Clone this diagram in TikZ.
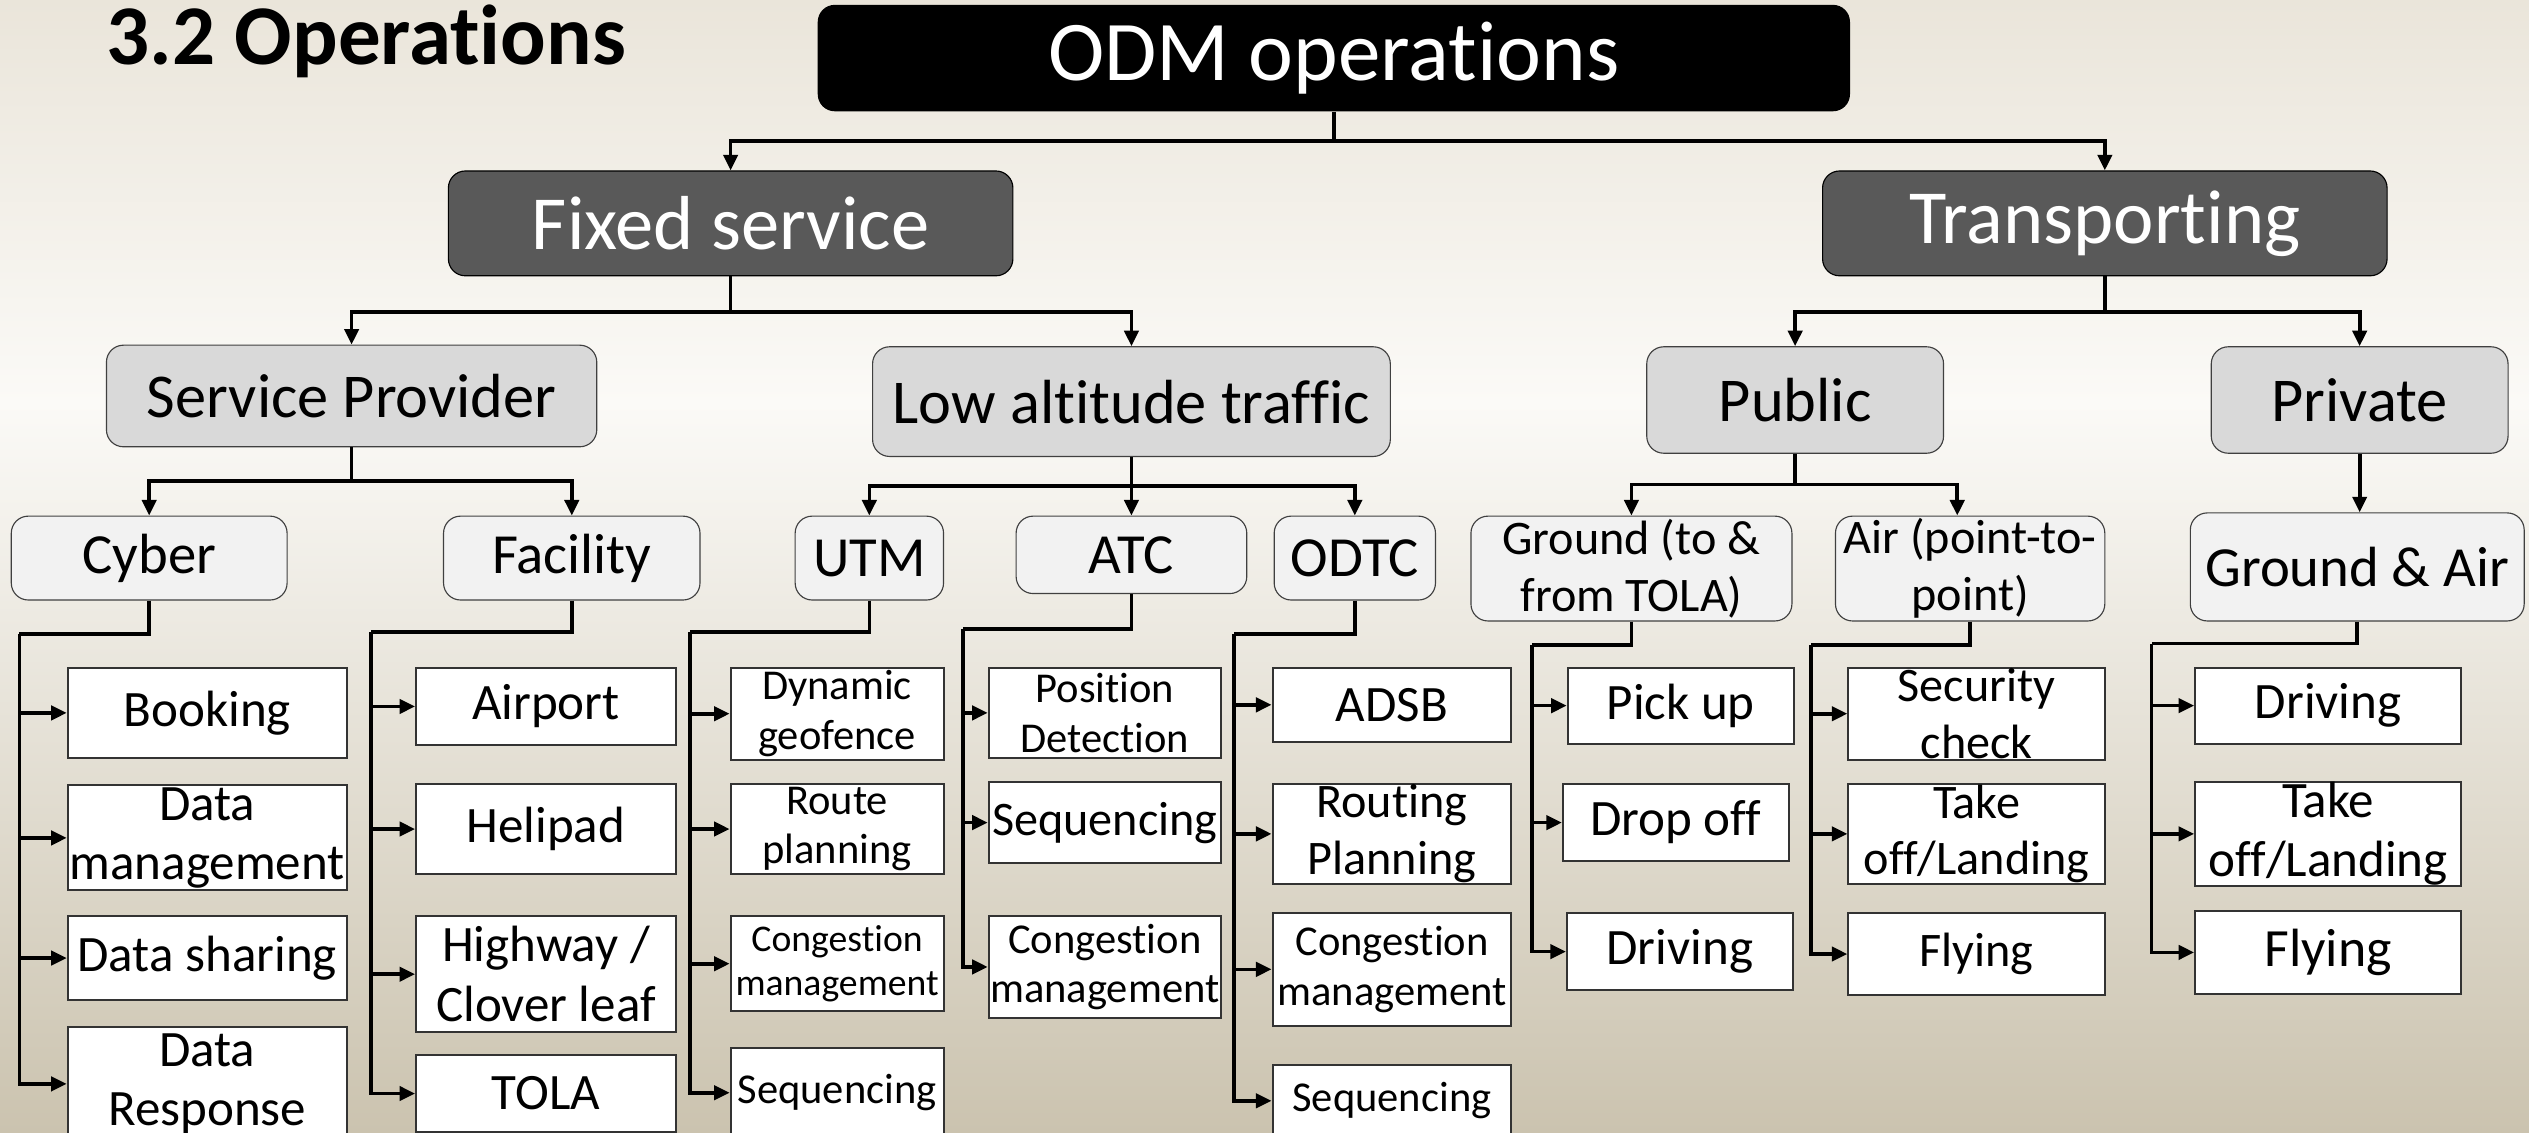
\documentclass[tikz,border=0pt]{standalone}
\usepackage{fontspec}
\setmainfont{Carlito}[Ligatures=NoCommon]
\usetikzlibrary{arrows.meta}
\definecolor{darkbox}{HTML}{595959}
\definecolor{groupfill}{HTML}{D9D9D9}
\definecolor{subfill}{HTML}{F2F2F2}
\definecolor{bgtop}{HTML}{EAE5DA}
\definecolor{bgmid}{HTML}{FBFAF7}
\definecolor{bgbot}{HTML}{CBC3AF}

\begin{document}
\begin{tikzpicture}[x=0.2mm, y=-0.2mm,
  >={Triangle[length=5.5pt,width=5pt]},
  link/.style={line width=1.3pt},
  topbox/.style={rectangle, rounded corners=6pt, fill=black, text=white, inner sep=0pt, font=\fontsize{30}{34}\selectfont},
  mainbox/.style={rectangle, rounded corners=6pt, draw=black, fill=darkbox, text=white, inner sep=0pt, minimum width=70mm, minimum height=13mm, font=\fontsize{27}{30}\selectfont},
  groupbox/.style={rectangle, rounded corners=6pt, draw=black!75, fill=groupfill, inner sep=0pt, font=\fontsize{22}{25}\selectfont},
  subbox/.style={rectangle, rounded corners=6pt, draw=black!75, fill=subfill, inner sep=0pt, align=center, font=\fontsize{20}{23}\selectfont},
  leaf/.style={rectangle, draw=black!80, line width=0.7pt, fill=white, inner sep=0pt, align=center, font=\fontsize{18}{21}\selectfont},
  smallleaf/.style={leaf, font=\fontsize{15}{17.5}\selectfont},
]
  % background
  \useasboundingbox (0,0) rectangle (1568,702);
  \shade[top color=bgtop, bottom color=bgmid] (0,0) rectangle (1568,250);
  \shade[top color=bgmid, bottom color=bgbot] (0,250) rectangle (1568,702);

  \node (title) [anchor=base west, font=\fontsize{30}{33}\selectfont\bfseries] at (60,40) {3.2 Operations};

  % top levels
  \node (odm) [topbox, minimum width=128mm, minimum height=13.2mm] at (827,36) {ODM operations};
  \node (fixed) [mainbox] at (453,138.5) {Fixed service};
  \node (trans) [mainbox] at (1305,138.5) {Transporting};

  \node (sp) [groupbox, minimum width=60.8mm, minimum height=12.6mm] at (218,245.5) {Service Provider};
  \node (lat) [groupbox, minimum width=64.2mm, minimum height=13.6mm] at (701.5,249) {Low altitude traffic};
  \node (pub) [groupbox, minimum width=36.8mm, minimum height=13.2mm] at (1113,248) {Public};
  \node (priv) [groupbox, minimum width=36.8mm, minimum height=13.2mm] at (1463,248) {Private};

  \node (cyber) [subbox, minimum width=34.2mm, minimum height=10.4mm] at (92.5,346) {Cyber};
  \node (facility) [subbox, minimum width=31.8mm, minimum height=10.4mm] at (354.5,346) {Facility};
  \node (utm) [subbox, minimum width=18.4mm, minimum height=10.4mm] at (539,346) {UTM};
  \node (atc) [subbox, minimum width=28.6mm, minimum height=9.6mm] at (701.5,344) {ATC};
  \node (odtc) [subbox, minimum width=20mm, minimum height=10.4mm] at (840,346) {ODTC};
  \node (ground) [subbox, minimum width=39.8mm, minimum height=13mm, font=\fontsize{17}{20}\selectfont] at (1011.5,352.5) {Ground (to \&\\from TOLA)};
  \node (air) [subbox, minimum width=33.4mm, minimum height=13mm, font=\fontsize{17}{20}\selectfont] at (1221.5,352.5) {Air (point-to-\\point)};
  \node (ga) [subbox, minimum width=41.4mm, minimum height=13.4mm] at (1461.5,351.5) {Ground \& Air};

  % leaves
  \node (booking) [leaf, minimum width=34.6mm, minimum height=11.2mm] at (128.5,442) {Booking};
  \node (dmgmt) [leaf, minimum width=34.6mm, minimum height=13mm] at (128.5,519.5) {Data\\management};
  \node (dshare) [leaf, minimum width=34.6mm, minimum height=10.4mm] at (128.5,594) {Data sharing};
  \node (dresp) [leaf, minimum width=34.6mm, minimum height=14mm] at (128.5,672) {Data\\Response};

  \node (airport) [leaf, minimum width=32.2mm, minimum height=9.6mm] at (338.5,438) {Airport};
  \node (helipad) [leaf, minimum width=32.2mm, minimum height=11.2mm] at (338.5,514) {Helipad};
  \node (highway) [leaf, minimum width=32.2mm, minimum height=14.4mm] at (338.5,604) {Highway /\\Clover leaf};
  \node (tola) [leaf, minimum width=32.2mm, minimum height=9.6mm] at (338.5,678) {TOLA};

  \node (dyngeo) [smallleaf, minimum width=26.4mm, minimum height=11.4mm] at (519,442.5) {Dynamic\\geofence};
  \node (route) [smallleaf, minimum width=26.4mm, minimum height=11.2mm] at (519,514) {Route\\planning};
  \node (ucong) [smallleaf, minimum width=26.4mm, minimum height=11.8mm, font=\fontsize{13.3}{15.4}\selectfont] at (519,597.5) {Congestion\\management};
  \node (useq) [smallleaf, minimum width=26.4mm, minimum height=11mm] at (519,677.5) {Sequencing};

  \node (posdet) [smallleaf, minimum width=28.8mm, minimum height=11.2mm] at (685,442) {Position\\Detection};
  \node (aseq) [leaf, minimum width=28.8mm, minimum height=10mm, font=\fontsize{17}{20}\selectfont] at (685,510) {Sequencing};
  \node (acong) [smallleaf, minimum width=28.8mm, minimum height=12.6mm] at (685,599.5) {Congestion\\management};

  \node (adsb) [leaf, minimum width=29.6mm, minimum height=9.2mm] at (863,437) {ADSB};
  \node (routing) [leaf, minimum width=29.6mm, minimum height=12.4mm, font=\fontsize{17}{20}\selectfont] at (863,517) {Routing\\Planning};
  \node (ocong) [smallleaf, minimum width=29.6mm, minimum height=14mm] at (863,601) {Congestion\\management};
  \node (oseq) [smallleaf, minimum width=29.6mm, minimum height=9mm] at (863,682.5) {Sequencing};

  \node (pickup) [leaf, minimum width=28mm, minimum height=9.4mm] at (1042,437.5) {Pick up};
  \node (dropoff) [leaf, minimum width=28mm, minimum height=9.6mm] at (1039,510) {Drop off};
  \node (gdrive) [leaf, minimum width=28mm, minimum height=9.6mm] at (1041.5,590) {Driving};

  \node (security) [leaf, minimum width=31.8mm, minimum height=11.4mm, font=\fontsize{17}{20}\selectfont] at (1225.5,442.5) {Security\\check};
  \node (atake) [leaf, minimum width=31.8mm, minimum height=12.4mm, font=\fontsize{17}{20}\selectfont] at (1225.5,517) {Take\\off/Landing};
  \node (afly) [leaf, minimum width=31.8mm, minimum height=10.2mm, font=\fontsize{17}{20}\selectfont] at (1225.5,591.5) {Flying};

  \node (gadrive) [leaf, minimum width=33mm, minimum height=9.4mm] at (1443.5,437.5) {Driving};
  \node (gatake) [leaf, minimum width=33mm, minimum height=12.4mm] at (1443.5,517) {Take\\off/Landing};
  \node (gafly) [leaf, minimum width=33mm, minimum height=10.2mm, font=\fontsize{19}{22}\selectfont] at (1443.5,590.5) {Flying};

  % tree links
  \draw[link,->] (odm.south) -- ++(0,18) -| (fixed.north);
  \draw[link,->] (odm.south) -- ++(0,18) -| (trans.north);
  \draw[link,->] (fixed.south) -- ++(0,22) -| (sp.north);
  \draw[link,->] (fixed.south) -- ++(0,22) -| (lat.north);
  \draw[link,->] (trans.south) -- ++(0,22) -| (pub.north);
  \draw[link,->] (trans.south) -- ++(0,22) -| (priv.north);
  \draw[link,->] (sp.south) -- ++(0,21) -| (cyber.north);
  \draw[link,->] (sp.south) -- ++(0,21) -| (facility.north);
  \draw[link,->] (lat.south) -- ++(0,18) -| (utm.north);
  \draw[link,->] (lat.south) -- (atc.north);
  \draw[link,->] (lat.south) -- ++(0,18) -| (odtc.north);
  \draw[link,->] (pub.south) -- ++(0,19) -| (ground.north);
  \draw[link,->] (pub.south) -- ++(0,19) -| ([xshift=-1.6mm]air.north);
  \draw[link,->] (priv.south) -- (priv.south |- ga.north);

  % trunks to the leaves
  \coordinate (cyt) at (12,393);
  \coordinate (fat) at (230,392);
  \coordinate (utt) at (428,392);
  \coordinate (att) at (597,390);
  \coordinate (odt) at (765,393);
  \coordinate (grt) at (950,400);
  \coordinate (art) at (1123,400);
  \coordinate (gat) at (1334,399);

  \draw[link] (cyber.south) |- (cyt);
  \draw[link,->] (cyt) |- (booking.west);
  \draw[link,->] (cyt) |- (dmgmt.west);
  \draw[link,->] (cyt) |- (dshare.west);
  \draw[link,->] (cyt) |- (dresp.west);

  \draw[link] (facility.south) |- (fat);
  \draw[link,->] (fat) |- (airport.west);
  \draw[link,->] (fat) |- (helipad.west);
  \draw[link,->] (fat) |- (highway.west);
  \draw[link,->] (fat) |- (tola.west);

  \draw[link] (utm.south) |- (utt);
  \draw[link,->] (utt) |- (dyngeo.west);
  \draw[link,->] (utt) |- (route.west);
  \draw[link,->] (utt) |- (ucong.west);
  \draw[link,->] (utt) |- (useq.west);

  \draw[link] (atc.south) |- (att);
  \draw[link,->] (att) |- (posdet.west);
  \draw[link,->] (att) |- (aseq.west);
  \draw[link,->] (att) |- (acong.west);

  \draw[link] (odtc.south) |- (odt);
  \draw[link,->] (odt) |- (adsb.west);
  \draw[link,->] (odt) |- (routing.west);
  \draw[link,->] (odt) |- (ocong.west);
  \draw[link,->] (odt) |- (oseq.west);

  \draw[link] (ground.south) |- (grt);
  \draw[link,->] (grt) |- (pickup.west);
  \draw[link,->] (grt) |- (dropoff.west);
  \draw[link,->] (grt) |- (gdrive.west);

  \draw[link] (air.south) |- (art);
  \draw[link,->] (art) |- (security.west);
  \draw[link,->] (art) |- (atake.west);
  \draw[link,->] (art) |- (afly.west);

  \draw[link] (ga.south) |- (gat);
  \draw[link,->] (gat) |- (gadrive.west);
  \draw[link,->] (gat) |- (gatake.west);
  \draw[link,->] (gat) |- (gafly.west);
\end{tikzpicture}
\end{document}
